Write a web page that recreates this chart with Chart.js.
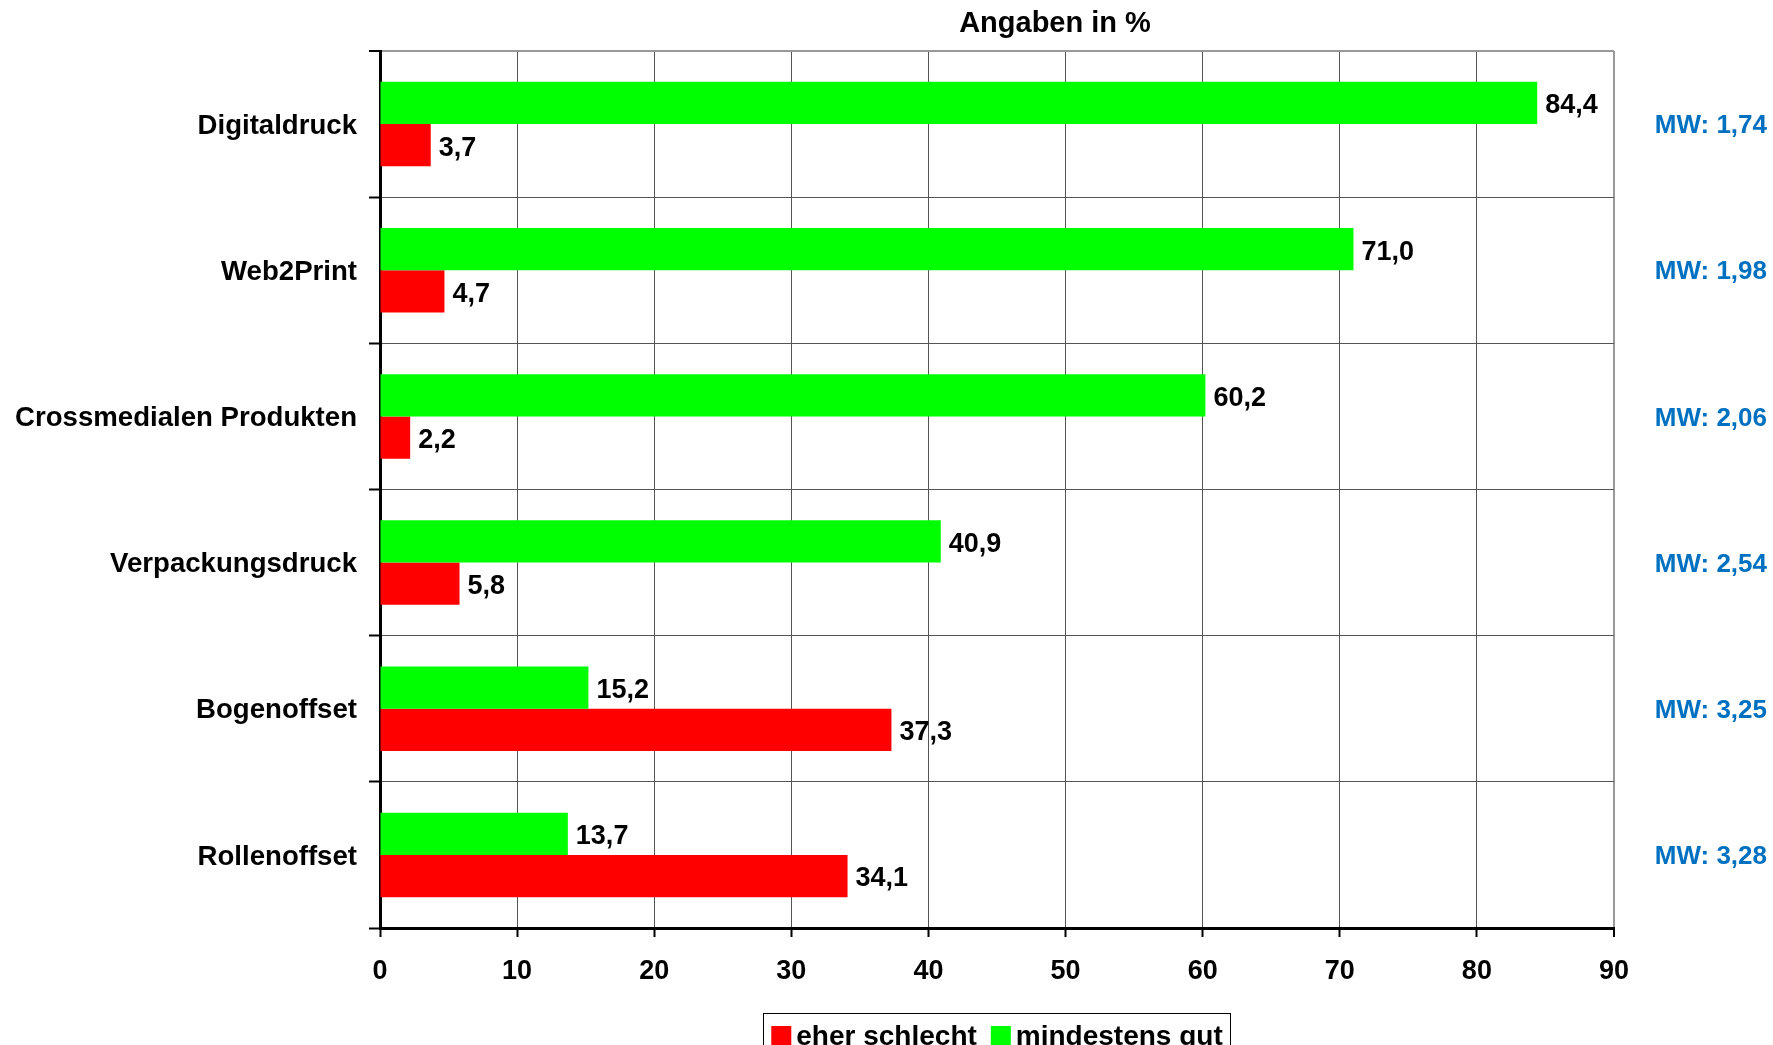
<!DOCTYPE html>
<html>
<head>
<meta charset="utf-8">
<script src="https://cdn.jsdelivr.net/npm/chart.js@4"></script>
<style>
  html, body { margin: 0; padding: 0; background: #fff; }
  canvas { display: block; }
</style>
</head>
<body>
<canvas id="c" width="1773" height="1045"></canvas>
<script>
const categories = ['Digitaldruck', 'Web2Print', 'Crossmedialen Produkten', 'Verpackungsdruck', 'Bogenoffset', 'Rollenoffset'];
const mindestensGut = [84.4, 71.0, 60.2, 40.9, 15.2, 13.7];
const eherSchlecht = [3.7, 4.7, 2.2, 5.8, 37.3, 34.1];
const mittelwerte = ['1,74', '1,98', '2,06', '2,54', '3,25', '3,28'];
const xTicks = [0, 10, 20, 30, 40, 50, 60, 70, 80, 90];

const FONT = "'Liberation Sans', Arial, sans-serif";
const GREEN = '#00FF00';
const RED = '#FF0000';
const BLUE = '#0070C0';

const fmt = v => v.toFixed(1).replace('.', ',');

// value labels next to each bar
const valueLabels = {
  id: 'valueLabels',
  afterDatasetsDraw(chart) {
    const ctx = chart.ctx;
    ctx.save();
    ctx.font = 'bold 27px ' + FONT;
    ctx.fillStyle = '#000';
    ctx.textAlign = 'left';
    ctx.textBaseline = 'middle';
    chart.data.datasets.forEach((ds, di) => {
      chart.getDatasetMeta(di).data.forEach((el, i) => {
        ctx.fillText(fmt(ds.data[i]), el.x + 8, el.y + 3);
      });
    });
    ctx.restore();
  }
};

// mean values at the right, title on top, framed legend below
const extras = {
  id: 'extras',
  afterDraw(chart) {
    const ctx = chart.ctx;
    const yScale = chart.scales.y;
    ctx.save();
    ctx.font = 'bold 26px ' + FONT;
    ctx.fillStyle = BLUE;
    ctx.textAlign = 'right';
    ctx.textBaseline = 'middle';
    mittelwerte.forEach((m, i) => {
      ctx.fillText('MW: ' + m, 1767, yScale.getPixelForValue(i) + 2);
    });

    ctx.font = 'bold 29px ' + FONT;
    ctx.fillStyle = '#000';
    ctx.textAlign = 'center';
    ctx.fillText('Angaben in %', 1055, 24);

    // legend
    const items = [
      { label: 'eher schlecht', color: RED },
      { label: 'mindestens gut', color: GREEN }
    ];
    const sq = 20, gapSq = 5, gapItem = 14, padX = 8;
    ctx.font = 'bold 28px ' + FONT;
    let total = padX * 2;
    items.forEach((it, k) => {
      it.w = ctx.measureText(it.label).width;
      total += sq + gapSq + it.w + (k ? gapItem : 0);
    });
    const cx = (chart.chartArea.left + chart.chartArea.right) / 2;
    let x = cx - total / 2;
    const top = 1013;
    ctx.strokeStyle = '#000';
    ctx.lineWidth = 1;
    ctx.strokeRect(Math.round(x) + 0.5, top + 0.5, Math.round(total), 60);
    x += padX;
    const midY = 1036;
    ctx.textAlign = 'left';
    ctx.textBaseline = 'middle';
    items.forEach((it, k) => {
      if (k) x += gapItem;
      ctx.fillStyle = it.color;
      ctx.fillRect(x, midY - sq / 2, sq, sq);
      x += sq + gapSq;
      ctx.fillStyle = '#000';
      ctx.fillText(it.label, x, midY + 1);
      x += it.w;
    });
    ctx.restore();
  }
};

new Chart(document.getElementById('c'), {
  type: 'bar',
  data: {
    labels: categories,
    datasets: [
      { label: 'mindestens gut', data: mindestensGut, backgroundColor: GREEN, borderWidth: 0 },
      { label: 'eher schlecht', data: eherSchlecht, backgroundColor: RED, borderWidth: 0 }
    ]
  },
  options: {
    indexAxis: 'y',
    responsive: false,
    animation: false,
    events: [],
    categoryPercentage: 0.578,
    barPercentage: 1.0,
    layout: { padding: { left: 0, right: 159, top: 51, bottom: 0 } },
    plugins: {
      legend: { display: false },
      title: { display: false },
      tooltip: { enabled: false }
    },
    scales: {
      x: {
        type: 'linear',
        min: 0,
        max: 90,
        afterBuildTicks(scale) { scale.ticks = xTicks.map(v => ({ value: v })); },
        afterFit(scale) { scale.height = 117; },
        border: { display: true, color: '#000', width: 3 },
        grid: {
          color: ctx => (ctx.tick && ctx.tick.value === 90) ? '#999' : '#555',
          lineWidth: ctx => (ctx.tick && ctx.tick.value === 90) ? 2 : 1,
          tickColor: '#000',
          tickWidth: 2,
          tickLength: 9
        },
        ticks: {
          color: '#000',
          font: { family: FONT, size: 27, weight: 'bold' },
          padding: 18,
          maxRotation: 0,
          callback: v => String(v)
        }
      },
      y: {
        afterFit(scale) { scale.width = 380; },
        border: { display: true, color: '#000', width: 3 },
        grid: {
          offset: true,
          color: ctx => ctx.index === 0 ? '#999' : '#555',
          lineWidth: ctx => ctx.index === 0 ? 2 : 1,
          tickColor: '#000',
          tickWidth: 2,
          tickLength: 11
        },
        ticks: {
          color: '#000',
          font: { family: FONT, size: 27.6, weight: 'bold' },
          padding: 12,
          labelOffset: 2,
          crossAlign: 'near'
        }
      }
    }
  },
  plugins: [valueLabels, extras]
});
</script>
</body>
</html>
